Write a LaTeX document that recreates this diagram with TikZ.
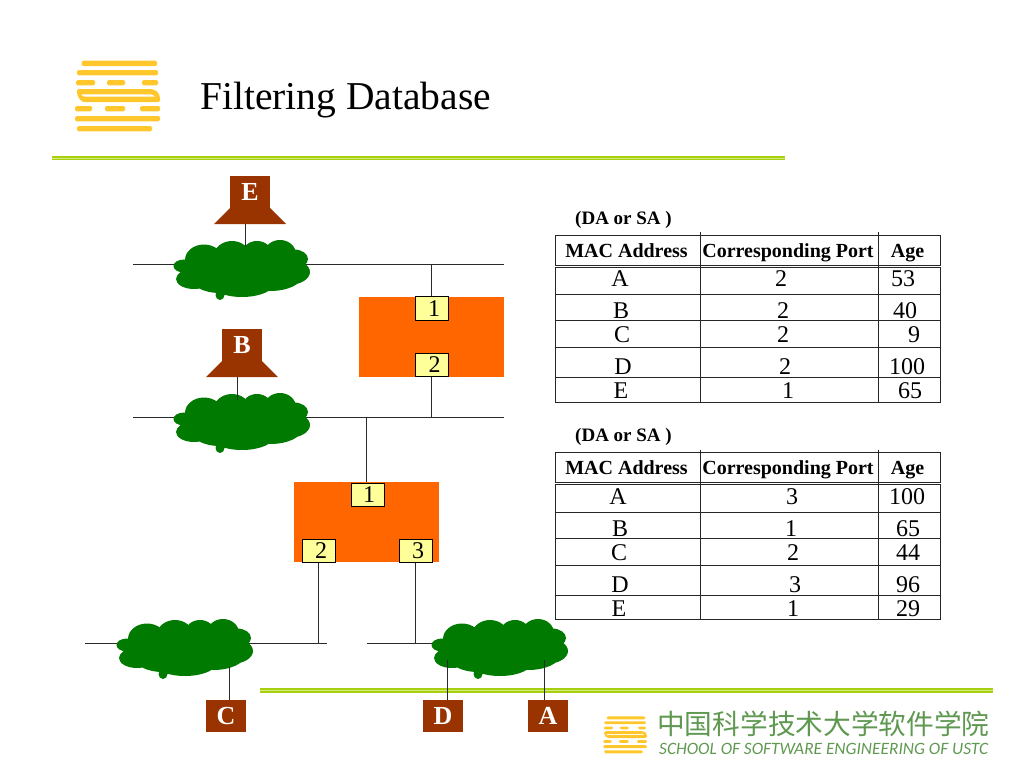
\documentclass[tikz,border=0pt]{standalone}
\usepackage{fontspec}
\usepackage{graphicx}
\setmainfont{Liberation Serif}
\newfontfamily\cjkfont{Noto Sans CJK SC}[Scale=1]
\newfontfamily\latinfont{Carlito}
\newcommand{\portnum}[2]{\hspace{#1pt}\raisebox{-1.5pt}{#2}}
\definecolor{brick}{HTML}{993300}
\definecolor{bridgeorange}{HTML}{FF6600}
\definecolor{portyellow}{HTML}{FFFF99}
\definecolor{cloudgreen}{HTML}{007A00}
\definecolor{rulegreen}{HTML}{A6D010}
\definecolor{rulelight}{HTML}{D8EA80}
\definecolor{logoyellow}{HTML}{FFC72C}
\definecolor{logotext}{HTML}{5F9850}
\definecolor{wire}{HTML}{2A2A2A}
\tikzset{
  x=1pt,y=-1pt,
  wireline/.style={draw=wire,line width=1pt},
  gridline/.style={draw=black!85,line width=1pt},
  hostbox/.style={fill=brick,minimum width=40,minimum height=32,inner sep=0,text=white,font=\fontsize{26}{26}\selectfont\bfseries},
  hostbase/.style={fill=brick},
  bridgebox/.style={fill=bridgeorange,minimum width=145,minimum height=80,inner sep=0},
  portbox/.style={fill=portyellow,draw=black,line width=.8pt,minimum width=33,minimum height=23.5,inner sep=0,font=\fontsize{24}{24}\selectfont},
  cellbody/.style={anchor=base,inner sep=0,font=\fontsize{24}{24}\selectfont},
  cellhead/.style={anchor=base,inner sep=0,font=\fontsize{20}{20}\selectfont\bfseries},
  captext/.style={anchor=base west,inner sep=0,font=\fontsize{19}{19}\selectfont\bfseries},
  tablebox/.style={draw=black!85,line width=1pt,minimum width=385,inner sep=0},
  pics/greencloud/.style={code={
    \fill[cloudgreen]
      (-38,-8) ellipse [x radius=19,y radius=15.5]
      (-10,-12) ellipse [x radius=18,y radius=15]
      (15,-14) ellipse [x radius=15,y radius=13]
      (38,-14) ellipse [x radius=16,y radius=14]
      (52,-9) ellipse [x radius=14,y radius=9.5]
      (46,4) ellipse [x radius=22,y radius=13]
      (-58,-2) ellipse [x radius=10.5,y radius=6.5]
      (-48,11) ellipse [x radius=18,y radius=10]
      (-22,9) ellipse [x radius=30,y radius=16]
      (0,13) ellipse [x radius=34,y radius=16]
      (28,8) ellipse [x radius=32,y radius=15]
      (0,0) ellipse [x radius=62,y radius=20]
      (-22,27) ellipse [x radius=4.5,y radius=5]
      (-22,20) ellipse [x radius=4.5,y radius=6];
  }},
  pics/stripedlogo/.style={code={
    \fill[logoyellow,rounded corners=1.5]
      (6.7,-1) rectangle (82,4.4)
      (2,8.3) rectangle (83,13.7)
      (1,18.3) rectangle (20,23.7) (32,18.3) rectangle (50,23.7) (67,18.3) rectangle (83,23.7)
      (2,27.3) rectangle (78,32.7)
      (7,35) rectangle (85,40.4)
      (0,44.3) rectangle (17,49.7) (30,44.3) rectangle (50,49.7) (65,44.3) rectangle (85,49.7)
      (0,54.3) rectangle (85,59.7)
      (2,64.3) rectangle (77,69.7);
    \fill[logoyellow]
      (76,27.3) .. controls (81,28) and (85,31) .. (85,37) -- (81,37) .. controls (80,34) and (78,32.7) .. (76,32.7) -- cycle
      (9,40.4) .. controls (5,39) and (2,35) .. (2,30) -- (6,30) .. controls (6,33) and (7,35) .. (9,35) -- cycle;
  }}
}
\begin{document}
\begin{tikzpicture}
\useasboundingbox (0,0) rectangle (1024,768);

% logo and title
\pic at (75,61.7) {stripedlogo};
\node[anchor=base west,inner sep=0,font=\fontsize{39.5}{40}\selectfont] (title) at (200,109) {Filtering Database};

% green rules
\coordinate (ruleTa) at (52,158); \coordinate (ruleTb) at (785,158);
\coordinate (ruleBa) at (260,690.5); \coordinate (ruleBb) at (993,690.5);

% buses
\coordinate (b1a) at (133,264.5); \coordinate (b1b) at (504,264.5);
\coordinate (b2a) at (133,417.5); \coordinate (b2b) at (504,417.5);
\coordinate (b3a) at (85,643.5);  \coordinate (b3b) at (327,643.5);
\coordinate (b4a) at (367,643.5); \coordinate (b4b) at (450,643.5);
\draw[wireline] (b1a) -- (b1b);
\draw[wireline] (b2a) -- (b2b);
\draw[wireline] (b3a) -- (b3b);
\draw[wireline] (b4a) -- (b4b);

% clouds
\pic at (242,268) {greencloud};
\pic at (242,421) {greencloud};
\pic at (185,647) {greencloud};
\pic at (500,647) {greencloud};

% rules
\draw[rulegreen,line width=4.5pt] (ruleTa) -- (ruleTb);
\draw[rulelight,line width=.8pt] (ruleTa) -- (ruleTb);
\draw[rulegreen,line width=4.5pt] (ruleBa) -- (ruleBb);
\draw[rulelight,line width=.8pt] (ruleBa) -- (ruleBb);

% bridges
\node[bridgebox] (br1) at (431.5,337) {};
\node[bridgebox] (br2) at (366.5,522) {};
\node[portbox] (p11) at (431.5,308.5) {\portnum{5}{1}};
\node[portbox] (p12) at (431.5,365) {\portnum{6}{2}};
\node[portbox] (p21) at (367.5,495) {\portnum{3}{1}};
\node[portbox] (p22) at (318.5,551) {\portnum{5}{2}};
\node[portbox] (p23) at (415.5,551) {\portnum{5}{3}};

% hosts
\fill[hostbase] (230,208) -- (270,208) -- (286,224) -- (214,224) -- cycle;
\fill[hostbase] (222,361) -- (262,361) -- (278,377) -- (206,377) -- cycle;
\node[hostbox] (hE) at (250,192) {\raisebox{-1pt}{E}};
\node[hostbox] (hB) at (242,345) {\raisebox{-1pt}{B}};
\node[hostbox] (hC) at (226,716) {\raisebox{-1pt}{C}};
\node[hostbox] (hD) at (443,716) {\raisebox{-1pt}{D}};
\node[hostbox] (hA) at (548,716) {\raisebox{-1pt}{A}};

% connectors
\coordinate (cE) at (245.5,224); \coordinate (cEb) at (245.5,247);
\coordinate (cB) at (237.5,377); \coordinate (cBb) at (237.5,400);
\coordinate (cC) at (229.5,667); \coordinate (cD) at (447.5,660); \coordinate (cA) at (544.5,660);
\draw[wireline] (cE) -- (cEb);
\draw[wireline] (cB) -- (cBb);
\draw[wireline] (cC) -- (cC |- hC.north);
\draw[wireline] (cD) -- (cD |- hD.north);
\draw[wireline] (cA) -- (cA |- hA.north);
\draw[wireline] (p11.north) -- (p11.north |- b1a);
\draw[wireline] (p12.south) -- (p12.south |- b2a);
\draw[wireline] (br2.north |- b2a) -- (br2.north);
\draw[wireline] (p22.south) -- (p22.south |- b3a);
\draw[wireline] (p23.south) -- (p23.south |- b4a);

% table 1
\node[captext] (cap1) at (575,224) {(DA or SA )};
\node[tablebox,minimum height=30,anchor=north west] (t1h) at (555,235) {};
\node[tablebox,minimum height=135,anchor=north west] (t1r) at (555,267) {};
\foreach \y in {294.5,320.5,347.5,377.5} \draw[gridline] (t1r.west |- 0,\y) -- (t1r.east |- 0,\y);
\foreach \x in {700.5,878.5} \draw[gridline] (\x,232) -- (\x,401.5);

% table 2
\node[captext] (cap2) at (575,441) {(DA or SA )};
\node[tablebox,minimum height=30,anchor=north west] (t2h) at (555,452) {};
\node[tablebox,minimum height=135,anchor=north west] (t2r) at (555,484) {};
\foreach \y in {512.5,538.5,565.5,595.5} \draw[gridline] (t2r.west |- 0,\y) -- (t2r.east |- 0,\y);
\foreach \x in {700.5,878.5} \draw[gridline] (\x,449.5) -- (\x,618.5);

\foreach \n/\x/\y/\t in {
  ha/626.5/257/MAC Address, hb/788/257/Corresponding Port, hc/907.5/257/Age,
  ka/626.5/474/MAC Address, kb/788/474/Corresponding Port, kc/907.5/474/Age}
  \node[cellhead] (\n) at (\x,\y) {\t};

\foreach \n/\x/\y/\t in {
  a1/620/286/A, a2/781/286/2, a3/903/286/53,
  b1/621/318/B, b2/783/318/2, b3/905/318/40,
  c1/622/342/C, c2/783/342/2, c3/914/342/9,
  d1/623/374/D, d2/785/374/2, d3/907/374/100,
  e1/621/398/E, e2/788/398/1, e3/910/398/65,
  f1/618/504/A, f2/792/504/3, f3/907/504/100,
  g1/620/536/B, g2/791/536/1, g3/908/536/65,
  i1/619/560/C, i2/793/560/2, i3/908/560/44,
  j1/620/592/D, j2/795/592/3, j3/908/592/96,
  l1/619/616/E, l2/793/616/1, l3/908/616/29}
  \node[cellbody] (\n) at (\x,\y) {\t};

% school logo
\pic[scale=0.52] at (603,717) {stripedlogo};
\node[anchor=base west,inner sep=0,text=logotext,font=\cjkfont\fontsize{27.7}{28}\selectfont] (cn) at (657,734) {中国科学技术大学软件学院};
\node[anchor=base west,inner sep=0,text=logotext,font=\latinfont\itshape\fontsize{18}{18}\selectfont] (en) at (659,754) {\resizebox{329pt}{!}{SCHOOL OF SOFTWARE ENGINEERING OF USTC}};
\end{tikzpicture}
\end{document}
